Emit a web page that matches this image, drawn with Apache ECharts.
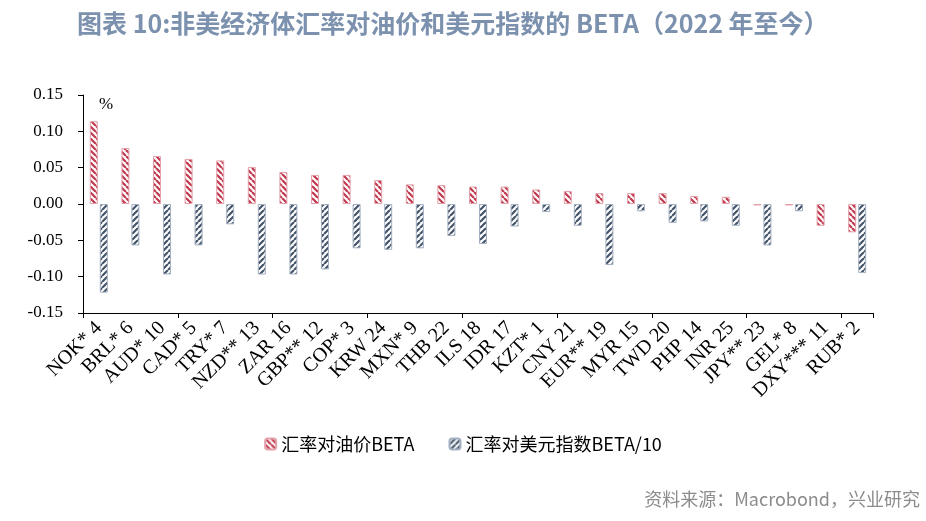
<!DOCTYPE html>
<html><head><meta charset="utf-8">
<script src="https://cdn.jsdelivr.net/npm/echarts@6/dist/echarts.min.js"></script>
<style>html,body{margin:0;padding:0;background:#fff}#c{width:926px;height:521px}</style>
</head><body><div id="c"></div>
<script>
const categories = ["NOK* 4","BRL* 6","AUD* 10","CAD* 5","TRY* 7","NZD** 13","ZAR 16","GBP** 12","COP* 3","KRW 24","MXN* 9","THB 22","ILS 18","IDR 17","KZT* 1","CNY 21","EUR** 19","MYR 15","TWD 20","PHP 14","INR 25","JPY** 23","GEL* 8","DXY*** 11","RUB* 2"];
const oilBeta = [0.114,0.077,0.066,0.062,0.060,0.051,0.044,0.040,0.040,0.033,0.027,0.026,0.024,0.024,0.020,0.018,0.015,0.015,0.015,0.011,0.010,-0.002,-0.002,-0.030,-0.039];
const usdBeta10 = [-0.122,-0.057,-0.097,-0.057,-0.028,-0.097,-0.097,-0.090,-0.061,-0.063,-0.061,-0.044,-0.055,-0.031,-0.011,-0.030,-0.084,-0.010,-0.026,-0.024,-0.030,-0.057,-0.010,null,-0.095];
const yTicks = {min:-0.15, max:0.15, interval:0.05};

function makePattern(color, dir){
  const s = 6;
  const c = document.createElement('canvas'); c.width = s; c.height = s;
  const ctx = c.getContext('2d');
  ctx.fillStyle = '#fff'; ctx.fillRect(0,0,s,s);
  ctx.strokeStyle = color; ctx.lineWidth = 2.2;
  ctx.beginPath();
  for (let k = -2*s; k <= 2*s; k += s){
    if (dir === '\\'){ ctx.moveTo(k,0); ctx.lineTo(k+s,s); }
    else { ctx.moveTo(k,s); ctx.lineTo(k+s,0); }
  }
  ctx.stroke();
  return {image:c, repeat:'repeat'};
}
const redPat = makePattern('#c0394e','\\');
const bluePat = makePattern('#44546a','/');

const chart = echarts.init(document.getElementById('c'));
chart.setOption({
  animation:false,
  backgroundColor:'#fff',
  title:{text:'图表 10:非美经济体汇率对油价和美元指数的 BETA（2022 年至今）', left:72, top:6,
    textStyle:{fontFamily:'Noto Sans CJK SC', fontSize:25, fontWeight:'bold', color:'#7b91ae'}},
  legend:{top:430, left:'center', itemGap:34, itemWidth:11, itemHeight:11,
    textStyle:{fontFamily:'Noto Sans CJK SC', fontSize:18, color:'#000'},
    data:['汇率对油价BETA','汇率对美元指数BETA/10']},
  grid:{left:83, right:53, top:95, bottom:208, containLabel:false},
  xAxis:[{type:'category', data:categories, position:'bottom',
      axisLine:{show:false}, axisTick:{show:false},
      axisLabel:{rotate:45, interval:0, margin:12, fontFamily:'Liberation Serif', fontSize:20, color:'#000'}},
    {type:'category', data:categories, position:'bottom',
      axisLine:{onZero:true, lineStyle:{color:'#000', width:1}},
      axisTick:{show:true, inside:false, length:5, lineStyle:{color:'#000'}},
      axisLabel:{show:false}}],
  yAxis:{type:'value', min:yTicks.min, max:yTicks.max, interval:yTicks.interval,
    axisLine:{show:true, lineStyle:{color:'#000'}},
    axisTick:{show:true, length:5, lineStyle:{color:'#000'}},
    splitLine:{show:false},
    axisLabel:{margin:20, fontFamily:'Liberation Serif', fontSize:17, color:'#000', formatter:v=>v.toFixed(2)}},
  graphic:[
    {type:'text', left:99, top:96, style:{text:'%', font:'17px "Liberation Serif"', fill:'#000'}},
    {type:'text', right:6, top:490, style:{text:'资料来源：Macrobond，兴业研究', font:'18px "Noto Sans CJK SC"', fill:'#8c8c8c'}}
  ],
  series:[
    {name:'汇率对油价BETA', type:'bar', xAxisIndex:0, data:oilBeta, barWidth:8, barGap:'25%',
      itemStyle:{color:redPat, borderColor:'#e3a0aa', borderWidth:1}},
    {name:'汇率对美元指数BETA/10', type:'bar', xAxisIndex:0, data:usdBeta10, barWidth:8, barGap:'25%',
      itemStyle:{color:bluePat, borderColor:'#a3b0c2', borderWidth:1}}
  ]
});
</script></body></html>
